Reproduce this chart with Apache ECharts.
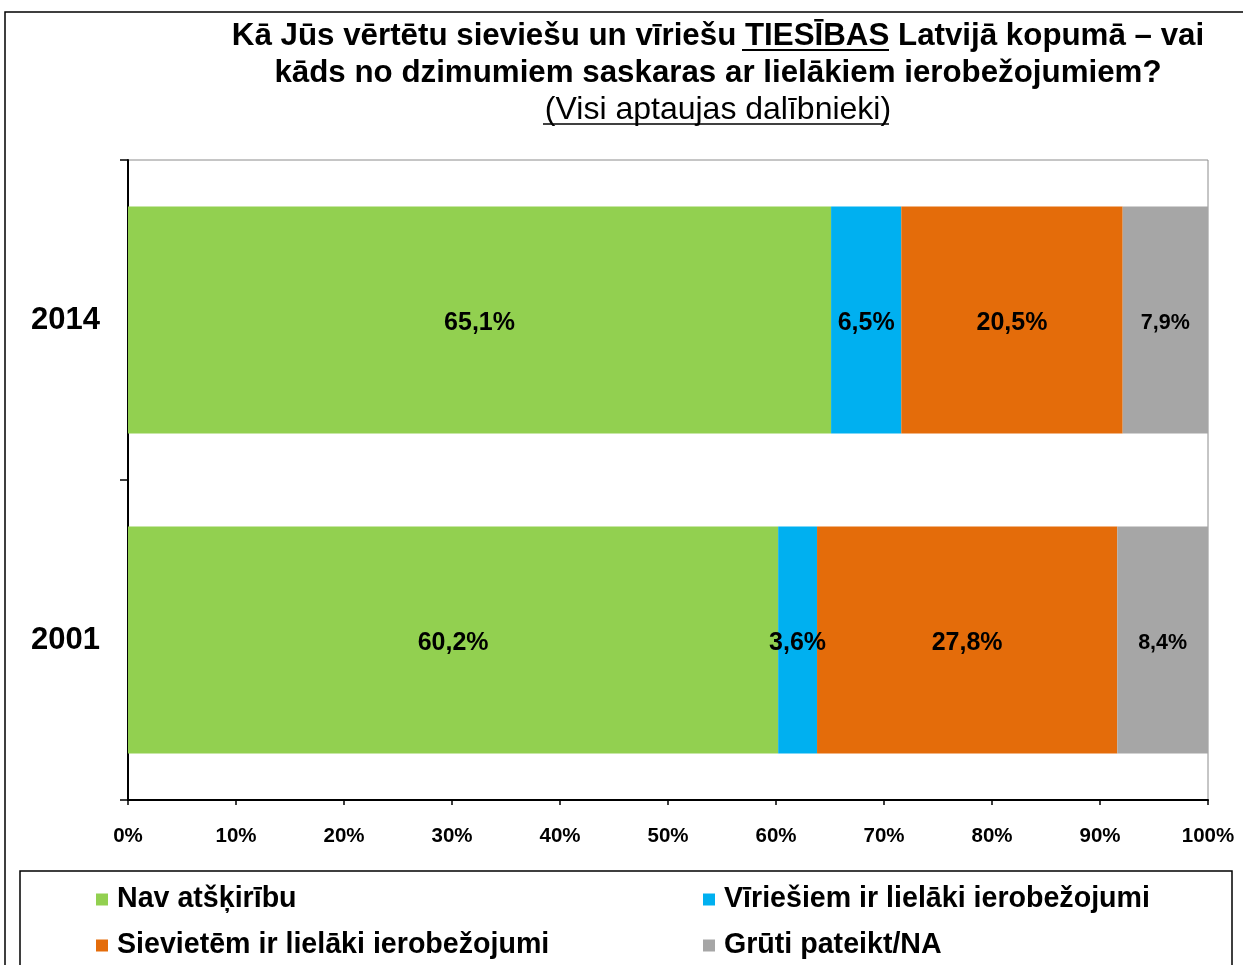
<!DOCTYPE html>
<html>
<head>
<meta charset="utf-8">
<script src="https://cdn.jsdelivr.net/npm/echarts@6/dist/echarts.min.js"></script>
<style>
  html, body { margin: 0; padding: 0; background: #fff; }
  #chart { width: 1243px; height: 965px; }
</style>
</head>
<body>
<div id="chart"></div>
<script>
const years = ['2001', '2014']
const seriesNames = [
  'Nav atšķirību',
  'Vīriešiem ir lielāki ierobežojumi',
  'Sievietēm ir lielāki ierobežojumi',
  'Grūti pateikt/NA'
]
// values per series, in order of years
const noDifference = [60.2, 65.1]
const menLimited = [3.6, 6.5]
const womenLimited = [27.8, 20.5]
const hardToSay = [8.4, 7.9]
const xTicks = [0, 10, 20, 30, 40, 50, 60, 70, 80, 90, 100]

const colors = ['#92D050', '#00B0F0', '#E46C0A', '#A6A6A6']
const font = 'Liberation Sans, Arial, sans-serif'

const chart = echarts.init(document.getElementById('chart'))

function makeSeries(name, data, color, size) {
  return {
    name: name,
    type: 'bar',
    stack: 'all',
    data: data,
    barWidth: '71%',
    itemStyle: { color: color },
    label: {
      show: true,
      position: 'inside',
      offset: [0, 3],
      color: '#000',
      fontWeight: 'bold',
      fontFamily: font,
      fontSize: size,
      formatter: p => p.value.toFixed(1).replace('.', ',') + '%'
    }
  }
}

const legendText = { fontFamily: font, fontWeight: 'bold', fontSize: 28.6, color: '#000', padding: [0, 0, 0, 4] }

const option = {
  backgroundColor: '#fff',
  animation: false,
  title: {
    text: 'Kā Jūs vērtētu sieviešu un vīriešu TIESĪBAS Latvijā kopumā – vai\nkāds no dzimumiem saskaras ar lielākiem ierobežojumiem?',
    subtext: '(Visi aptaujas dalībnieki)',
    left: 718,
    top: 18,
    padding: 0,
    textAlign: 'center',
    itemGap: 0,
    textStyle: { fontFamily: font, fontWeight: 'bold', fontSize: 31.3, color: '#000', lineHeight: 37 },
    subtextStyle: { fontFamily: font, fontWeight: 'normal', fontSize: 32, color: '#000', lineHeight: 37 }
  },
  legend: [
    {
      data: [seriesNames[0], seriesNames[2]],
      orient: 'vertical',
      left: 96,
      top: 885,
      height: 90,
      padding: 0,
      itemWidth: 12,
      itemHeight: 12,
      itemGap: 17,
      icon: 'rect',
      textStyle: legendText
    },
    {
      data: [seriesNames[1], seriesNames[3]],
      orient: 'vertical',
      left: 703,
      top: 885,
      height: 90,
      padding: 0,
      itemWidth: 12,
      itemHeight: 12,
      itemGap: 17,
      icon: 'rect',
      textStyle: legendText
    }
  ],
  grid: {
    left: 128,
    right: 35,
    top: 160,
    bottom: 165,
    show: true,
    borderColor: '#8c8c8c',
    borderWidth: 1
  },
  xAxis: {
    type: 'value',
    min: xTicks[0],
    max: xTicks[xTicks.length - 1],
    interval: 10,
    splitLine: { show: false },
    axisLine: { show: true, lineStyle: { color: '#000', width: 2 } },
    axisTick: { show: true, length: 5, lineStyle: { color: '#000', width: 1.5 } },
    axisLabel: {
      margin: 26,
      color: '#000',
      fontFamily: font,
      fontWeight: 'bold',
      fontSize: 20.5,
      formatter: v => v + '%'
    }
  },
  yAxis: {
    type: 'category',
    data: years,
    axisLine: { show: true, lineStyle: { color: '#000', width: 2 } },
    axisTick: { show: true, length: 8, lineStyle: { color: '#000', width: 1.5 } },
    axisLabel: {
      margin: 28,
      offset: [0, 4],
      color: '#000',
      fontFamily: font,
      fontWeight: 'bold',
      fontSize: 31
    }
  },
  series: [
    makeSeries(seriesNames[0], noDifference, colors[0], 25),
    makeSeries(seriesNames[1], menLimited, colors[1], 25),
    makeSeries(seriesNames[2], womenLimited, colors[2], 25),
    makeSeries(seriesNames[3], hardToSay, colors[3], 21.5)
  ],
  graphic: [
    // outer frame
    { type: 'rect', shape: { x: 5, y: 12, width: 1250, height: 970 }, style: { fill: 'none', stroke: '#000', lineWidth: 1.5 }, silent: true },
    // legend box
    { type: 'rect', shape: { x: 20, y: 871, width: 1212, height: 110 }, style: { fill: 'none', stroke: '#000', lineWidth: 1.5 }, silent: true },
    // underlines
    { type: 'line', shape: { x1: 742, y1: 50, x2: 889, y2: 50 }, style: { stroke: '#000', lineWidth: 2 }, silent: true },
    { type: 'line', shape: { x1: 543, y1: 124, x2: 889, y2: 124 }, style: { stroke: '#000', lineWidth: 1.5 }, silent: true }
  ]
}

chart.setOption(option)
</script>
</body>
</html>
